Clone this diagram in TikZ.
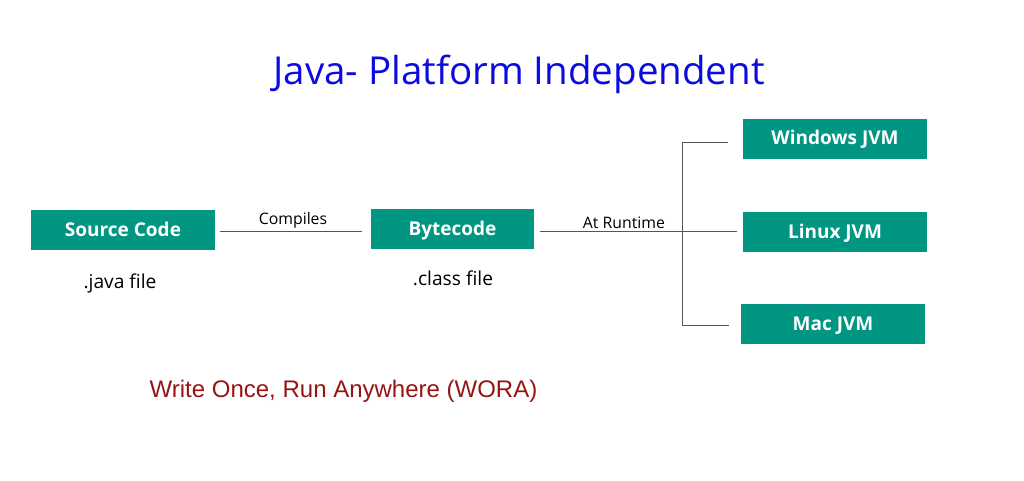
\documentclass[tikz,border=0pt]{standalone}
\usepackage{fontspec}
\setmainfont{Open Sans}
\newfontfamily\arialfont{Liberation Sans}
\definecolor{boxteal}{RGB}{0,150,130}
\definecolor{titleblue}{RGB}{10,10,225}
\definecolor{woradred}{RGB}{150,20,20}
\definecolor{linegray}{RGB}{85,85,85}
\tikzset{
  jvmbox/.style={fill=boxteal, text=white, font=\fontsize{19}{22}\selectfont\bfseries,
    minimum width=184pt, minimum height=40pt, inner sep=0pt,
    text height=12.6pt, text depth=0pt},
  link/.style={draw=linegray, line width=1pt},
  edgelbl/.style={font=\fontsize{15.8}{18}\selectfont, inner sep=2pt},
  filelbl/.style={font=\fontsize{19.2}{22}\selectfont, anchor=base}
}
\begin{document}
\begin{tikzpicture}[x=1pt, y=-1pt, line cap=butt]

% --- Canvas (pixel units) ---
\def\W{1024}
\def\H{480}
\def\xfork{682}   % x of the vertical fork line
\useasboundingbox (0,0) rectangle (\W,\H);

% --- Title ---
\node[anchor=base, text=titleblue, font=\fontsize{38.5}{44}\selectfont] (title) at (519,84) {Java- Platform Independent};

% --- Boxes ---
\node[jvmbox, minimum width=184pt] (src)   at (123,230) {Source Code};
\node[jvmbox, minimum width=163pt] (byte)  at (452.5,229) {Bytecode};
\node[jvmbox] (win)   at (835,138.5) {Windows JVM};
\node[jvmbox] (linux) at (835,232) {Linux JVM};
\node[jvmbox] (mac)   at (833,324) {Mac JVM};

% --- File labels ---
\node[filelbl] (javafile)  at (120,288) {.java file};
\node[filelbl] (classfile) at (453,285) {.class file};

% --- Connectors ---
\coordinate (fork) at (\xfork,231);
\draw[link, shorten <=5pt, shorten >=9pt]
  (src.east |- fork) -- node[edgelbl, above] {Compiles} (byte.west |- fork);
\draw[link, shorten <=6pt, shorten >=6pt]
  (byte.east |- fork) -- node[edgelbl, above, pos=.43] {At Runtime} (linux.west |- fork);

\draw[link] (fork |- 0,142) -- (fork |- 0,325);
\draw[link, shorten >=15pt] (fork |- 0,142) -- (win.west |- 0,142);
\draw[link, shorten >=12pt] (fork |- 0,325) -- (mac.west |- 0,325);

% --- Motto ---
\node[anchor=base, text=woradred, font=\arialfont\fontsize{24}{28}\selectfont] (wora) at (343.5,397) {Write Once, Run Anywhere (WORA)};

\end{tikzpicture}
\end{document}
